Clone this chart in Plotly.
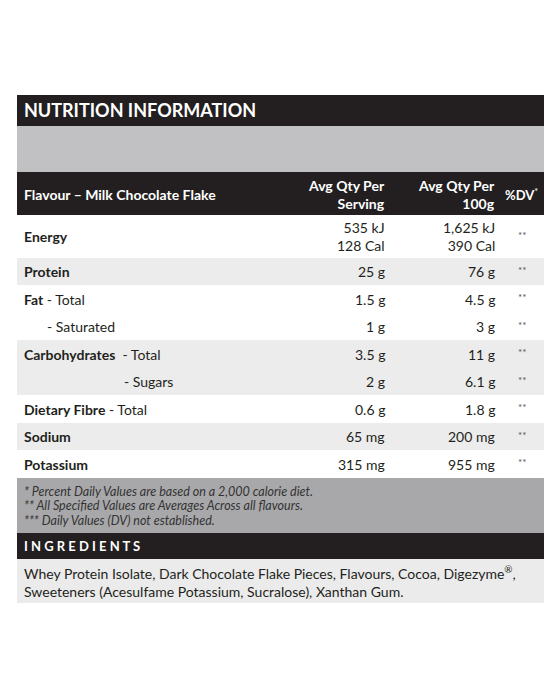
import plotly.graph_objects as go

# table content
nutrients = ['Energy', 'Protein', 'Fat', 'Saturated', 'Carbohydrates', 'Sugars',
             'Dietary Fibre', 'Sodium', 'Potassium']
labels = ['<b>Energy</b>', '<b>Protein</b>', '<b>Fat</b> - Total', '   - Saturated',
          '<b>Carbohydrates</b>  - Total', '', '<b>Dietary Fibre</b> - Total',
          '<b>Sodium</b>', '<b>Potassium</b>']
per_serving = ['535 kJ<br>128 Cal', '25 g', '1.5 g', '1 g', '3.5 g', '2 g', '0.6 g', '65 mg', '315 mg']
per_100g = ['1,625 kJ<br>390 Cal', '76 g', '4.5 g', '3 g', '11 g', '6.1 g', '1.8 g', '200 mg', '955 mg']
dv = ['**'] * 9
shaded = [False, True, False, False, True, True, False, True, False]
footnotes = ['* Percent Daily Values are based on a 2,000 calorie diet.',
             '** All Specified Values are Averages Across all flavours.',
             '*** Daily Values (DV) not established.']
ingredients = ('Whey Protein Isolate, Dark Chocolate Flake Pieces, Flavours, Cocoa, Digezyme<sup>®</sup>,<br>'
               'Sweeteners (Acesulfame Potassium, Sucralose), Xanthan Gum.')

row_edges = [215, 258, 285, 313, 340, 368, 395, 423, 450, 478]
L, R = 17, 544
BLACK = '#231f20'
FONT = 'Lato'

fig = go.Figure()
shapes = []
ann = []


def rect(y0, y1, color):
    shapes.append(dict(type='rect', xref='x', yref='y', x0=L, x1=R, y0=y0, y1=y1,
                       fillcolor=color, line=dict(width=0), layer='below'))


def text(x, y, s, size=14, color=BLACK, anchor='left', italic=False):
    ann.append(dict(x=x, y=y, xref='x', yref='y', text=s, showarrow=False,
                    xanchor=anchor, yanchor='middle', align=anchor,
                    font=dict(family=FONT, size=size, color=color,
                              style='italic' if italic else 'normal')))


rect(95, 126, BLACK)
text(22, 110, '<b>NUTRITION INFORMATION</b>', size=18, color='white')
rect(126, 172, '#c1c1c3')
rect(172, 215, BLACK)
text(22, 194, '<b>Flavour – Milk Chocolate Flake</b>', color='white')
text(387, 194, '<b>Avg Qty Per<br>Serving</b>', color='white', anchor='right')
text(497, 194, '<b>Avg Qty Per<br>100g</b>', color='white', anchor='right')
text(503, 194, '<b>%DV</b><sup>*</sup>', size=13, color='white')

for i, n in enumerate(nutrients):
    y0, y1 = row_edges[i], row_edges[i + 1]
    ym = (y0 + y1) / 2
    rect(y0, y1, '#ececec' if shaded[i] else 'white')
    if n == 'Sugars':
        text(122, ym, '- Sugars')
    elif n == 'Saturated':
        text(45, ym, '- Saturated')
    else:
        text(22, ym, labels[i])
    text(387, ym, per_serving[i], anchor='right')
    text(497, ym, per_100g[i], anchor='right')
    text(522, ym - 2, dv[i], size=10, color='#555', anchor='center')

rect(478, 533, '#a8a8aa')
for j, f in enumerate(footnotes):
    text(22, 491 + j * 14.5, f, size=12.5, color='#333', italic=True)
rect(533, 559, BLACK)
text(22, 546, '<b>I N G R E D I E N T S</b>', size=13, color='white')
rect(559, 603, '#ebebeb')
text(22, 581, ingredients, size=14)

# page has an 8px body margin, so the plot covers x 8..560, y 8..700
fig.update_layout(width=552, height=692, margin=dict(l=0, r=0, t=0, b=0),
                  plot_bgcolor='white', paper_bgcolor='white',
                  shapes=shapes, annotations=ann, showlegend=False,
                  xaxis=dict(range=[8, 560], visible=False, fixedrange=True),
                  yaxis=dict(range=[700, 8], visible=False, fixedrange=True))
fig.write_html('out.html')
